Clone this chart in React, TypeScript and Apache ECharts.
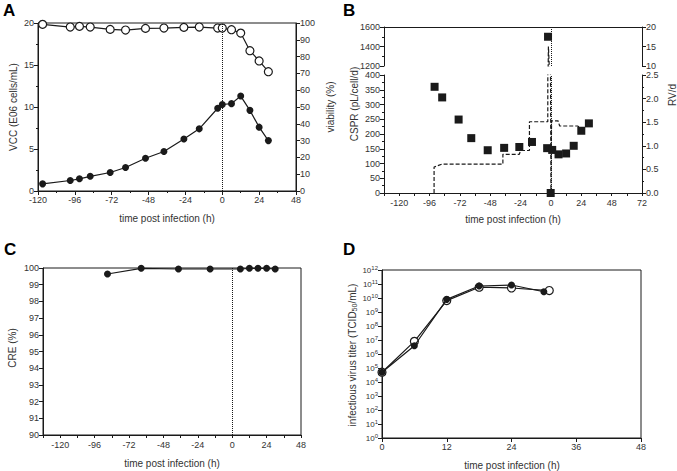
import React, { useEffect, useRef } from 'react';
import * as echarts from 'echarts';

const FONT = '"Liberation Sans", Arial, Helvetica, sans-serif';
const INK = '#1a1a1a';
const TXT = '#333333';

// Panel A
const vccTime = [-117, -99, -93, -86, -73, -63, -50, -38, -25, -15, -3, 0, 6, 12, 18, 24, 30];
const vcc = [0.85, 1.25, 1.45, 1.75, 2.2, 2.8, 3.9, 4.7, 6.2, 7.4, 9.85, 10.3, 10.4, 11.3, 9.6, 7.6, 6.0];
const viability = [99.2, 97.6, 98, 97.6, 96.2, 95.8, 96.8, 97, 97.4, 97.6, 97, 97, 96, 94, 83.5, 77.4, 71];

// Panel B
const csprTime = [-92, -86, -73, -63, -50, -37, -25, -15, -3, -2.3, -0.2, 1, 6, 12, 18, 24, 30];
const cspr = [360, 324, 249, 186, 145, 153, 156, 173, 152, 1500, 0, 146, 131, 134, 160, 211, 236];
const rvTime = [-92.4, -92.4, -86.4, -38, -38, -25, -24, -17, -17, -2.5, -2, 0, 0.5, 5.6, 6.9, 21, 24];
const rv = [0, 0.55, 0.61, 0.61, 0.82, 0.82, 0.9, 0.9, 1.51, 1.51, 15, 0, 1.53, 1.53, 1.42, 1.42, 1.38];

// Panel C
const creTime = [-87, -63.5, -37.5, -15.4, 5.7, 12, 18, 24, 30];
const cre = [99.64, 99.98, 99.94, 99.94, 99.94, 99.98, 99.98, 99.98, 99.94];

// Panel D
const titerTimeA = [0, 6, 12, 18, 24, 30];
const titerA = [5e4, 3.9e6, 8e9, 7.2e10, 8.5e10, 2.8e10];
const titerTimeB = [0, 6, 12, 18, 24, 31];
const titerB = [5e4, 8e6, 6.5e9, 5.9e10, 5.2e10, 3.4e10];
const titerTicks = [1, 1e1, 1e2, 1e3, 1e4, 1e5, 1e6, 1e7, 1e8, 1e9, 1e10, 1e11, 1e12];

const pairs = (xs: number[], ys: number[]) => xs.map((x, i) => [x, ys[i]]);

const axisBase = (extra: any = {}) => ({
  axisLine: { show: true, onZero: false, lineStyle: { color: INK, width: 1 } },
  axisTick: { show: true, length: 4, lineStyle: { color: INK, width: 1 } },
  axisLabel: { color: TXT, fontSize: 9, margin: 4, fontFamily: FONT, formatter: (v: number) => String(v) },
  splitLine: { show: false },
  ...extra,
});
const minor = { show: true, splitNumber: 2, length: 2, lineStyle: { color: INK, width: 1 } };

const zeroLine = {
  silent: true,
  symbol: ['none', 'none'],
  label: { show: false },
  lineStyle: { type: 'dotted', color: INK, width: 1 },
  data: [{ xAxis: 0 }],
};

const filled = { color: INK, opacity: 1 };
const open = { color: '#ffffff', borderColor: INK, borderWidth: 1.2, opacity: 1 };

const label = (text: string, x: number, y: number, rot = 0, extra: any = {}) => ({
  type: 'text',
  x,
  y,
  rotation: rot,
  style: {
    text,
    fill: TXT,
    fontSize: 10,
    fontFamily: FONT,
    align: 'center',
    verticalAlign: 'middle',
    ...extra,
  },
});
const letter = (text: string, x: number, y: number) => ({
  type: 'text',
  x,
  y,
  style: { text, fill: '#000', fontSize: 17, fontWeight: 'bold', fontFamily: FONT, align: 'left', verticalAlign: 'top' },
});

const tick24 = (v: number) => (v % 24 === 0 ? String(v) : '');

const option: any = {
  animation: false,
  backgroundColor: '#ffffff',
  textStyle: { fontFamily: FONT },
  grid: [
    { left: 38, top: 23, width: 258, height: 168, show: true, borderColor: INK, borderWidth: 1, backgroundColor: 'transparent' },
    { left: 384, top: 27, width: 258, height: 39 },
    { left: 384, top: 75, width: 258, height: 118 },
    { left: 43, top: 268, width: 258, height: 167, show: true, borderColor: INK, borderWidth: 1, backgroundColor: 'transparent' },
    { left: 382, top: 270, width: 259, height: 168, show: true, borderColor: INK, borderWidth: 1, backgroundColor: 'transparent' },
  ],
  xAxis: [
    axisBase({ type: 'value', gridIndex: 0, min: -120, max: 48, interval: 24, minorTick: minor }),
    axisBase({ type: 'value', gridIndex: 1, position: 'top', min: -132, max: 72, interval: 12, axisTick: { show: false }, axisLabel: { show: false } }),
    axisBase({ type: 'value', gridIndex: 2, min: -132, max: 72, interval: 12, axisTick: { show: true, length: 3, lineStyle: { color: INK } }, axisLabel: { color: TXT, fontSize: 9, margin: 5, fontFamily: FONT, formatter: tick24, showMinLabel: true, showMaxLabel: true } }),
    axisBase({ type: 'value', gridIndex: 3, min: -132, max: 48, interval: 12, axisTick: { show: true, length: 3, lineStyle: { color: INK } }, axisLabel: { color: TXT, fontSize: 9, margin: 5, fontFamily: FONT, formatter: tick24 } }),
    axisBase({ type: 'value', gridIndex: 4, min: 0, max: 48, interval: 12 }),
  ],
  yAxis: [
    axisBase({ type: 'value', gridIndex: 0, min: 0, max: 20, interval: 5, minorTick: minor }),
    axisBase({ type: 'value', gridIndex: 0, position: 'right', min: 0, max: 100, interval: 10, alignTicks: false }),
    axisBase({ type: 'value', gridIndex: 1, min: 1200, max: 1600, interval: 200, minorTick: minor }),
    axisBase({ type: 'value', gridIndex: 1, position: 'right', min: 10, max: 20, interval: 5 }),
    axisBase({ type: 'value', gridIndex: 2, min: 0, max: 400, interval: 50, minorTick: minor }),
    axisBase({ type: 'value', gridIndex: 2, position: 'right', min: 0, max: 2.5, interval: 0.5, minorTick: minor, axisLabel: { color: TXT, fontSize: 9, margin: 4, fontFamily: FONT, formatter: (v: number) => v.toFixed(1) } }),
    axisBase({ type: 'value', gridIndex: 3, min: 90, max: 100, interval: 1 }),
    axisBase({
      type: 'log', gridIndex: 4, logBase: 10, min: 1, max: 1e12,
      axisTick: { show: true, length: 4, lineStyle: { color: INK, width: 1 }, customValues: titerTicks },
      axisLabel: {
        color: TXT, fontSize: 8, margin: 4, fontFamily: FONT,
        customValues: titerTicks,
        formatter: (v: number) => '10{s|' + Math.round(Math.log10(v)) + '}',
        rich: { s: { fontSize: 6, color: TXT, fontFamily: FONT, verticalAlign: 'top', padding: [0, 0, 5, 0] } },
      },
    }),
  ],
  series: [
    {
      type: 'line', xAxisIndex: 0, yAxisIndex: 0, data: pairs(vccTime, vcc),
      symbol: 'circle', symbolSize: 7, itemStyle: filled, lineStyle: { color: INK, width: 1.2 }, z: 3,
      markLine: zeroLine,
    },
    {
      type: 'line', xAxisIndex: 0, yAxisIndex: 1, data: pairs(vccTime, viability),
      symbol: 'circle', symbolSize: 8, itemStyle: open, lineStyle: { color: INK, width: 1.2 }, z: 4,
    },
    {
      type: 'scatter', xAxisIndex: 1, yAxisIndex: 2,
      data: pairs(csprTime, cspr).filter((p) => p[1] >= 1200),
      symbol: 'rect', symbolSize: 8, itemStyle: filled, markLine: zeroLine, z: 4,
    },
    {
      type: 'line', xAxisIndex: 1, yAxisIndex: 3, data: pairs(rvTime, rv), clip: true,
      showSymbol: false, symbol: 'none', lineStyle: { color: INK, width: 1.2, type: [4, 2] }, z: 3,
    },
    {
      type: 'scatter', xAxisIndex: 2, yAxisIndex: 4,
      data: pairs(csprTime, cspr).filter((p) => p[1] <= 400),
      symbol: 'rect', symbolSize: 8, itemStyle: filled, markLine: zeroLine, z: 4,
    },
    {
      type: 'line', xAxisIndex: 2, yAxisIndex: 5, data: pairs(rvTime, rv), clip: true,
      showSymbol: false, symbol: 'none', lineStyle: { color: INK, width: 1.2, type: [4, 2] }, z: 3,
    },
    {
      type: 'line', xAxisIndex: 3, yAxisIndex: 6, data: pairs(creTime, cre), clip: false,
      symbol: 'circle', symbolSize: 7, itemStyle: filled, lineStyle: { color: INK, width: 1.2 }, markLine: zeroLine,
    },
    {
      type: 'line', xAxisIndex: 4, yAxisIndex: 7, data: pairs(titerTimeB, titerB),
      symbol: 'circle', symbolSize: 8, itemStyle: open, lineStyle: { color: INK, width: 1.2 }, z: 3,
    },
    {
      type: 'line', xAxisIndex: 4, yAxisIndex: 7, data: pairs(titerTimeA, titerA),
      symbol: 'circle', symbolSize: 7, itemStyle: filled, lineStyle: { color: INK, width: 1.2 }, z: 4,
    },
  ],
  graphic: [
    letter('A', 3, 2),
    letter('B', 343, 2),
    letter('C', 4, 241),
    letter('D', 343, 241),
    label('VCC (E06 cells/mL)', 13, 107, Math.PI / 2),
    label('viability (%)', 330, 107, Math.PI / 2),
    label('time post infection (h)', 167, 218),
    label('CSPR (pL/cell/d)', 354, 104, Math.PI / 2),
    label('RV/d', 672, 95, Math.PI / 2),
    label('time post infection (h)', 513, 219),
    label('CRE (%)', 12, 348, Math.PI / 2),
    label('time post infection (h)', 172, 463),
    {
      type: 'text', x: 352, y: 355, rotation: Math.PI / 2,
      style: {
        text: 'infectious virus titer (TCID{sub|50}/mL)', fill: TXT, fontSize: 10, fontFamily: FONT,
        align: 'center', verticalAlign: 'middle',
        rich: { sub: { fontSize: 7, fill: TXT, fontFamily: FONT, verticalAlign: 'bottom', padding: [5, 0, 0, 0] } },
      },
    },
    label('time post infection (h)', 512, 465),
  ],
};

export default function App() {
  const ref = useRef<HTMLDivElement>(null);
  useEffect(() => {
    const chart = echarts.init(ref.current as HTMLDivElement, null, { renderer: 'svg' });
    chart.setOption(option);
    return () => chart.dispose();
  }, []);
  return (
    <div
      ref={ref}
      style={{ position: 'absolute', left: 0, top: 0, width: 677, height: 471, background: '#fff' }}
    />
  );
}
